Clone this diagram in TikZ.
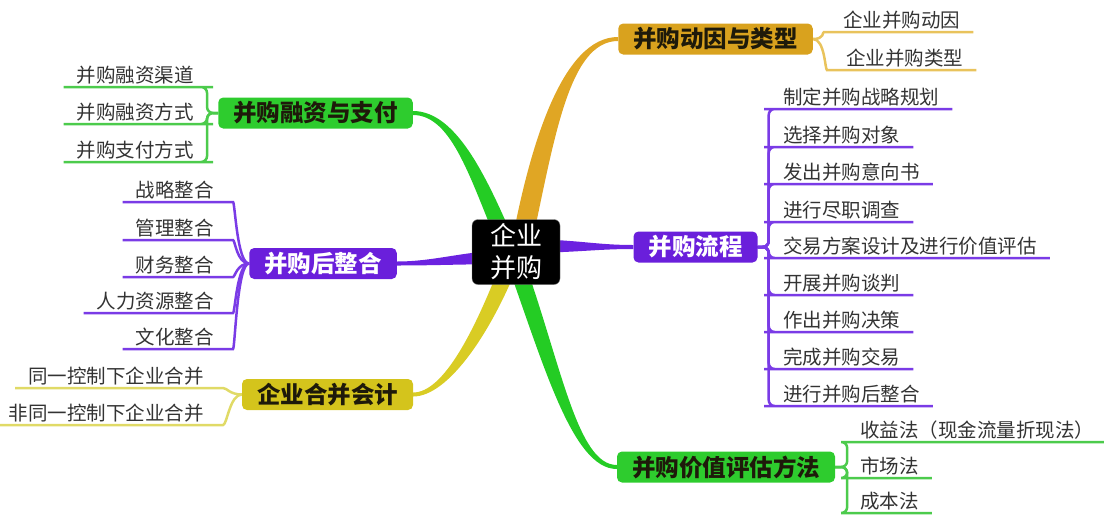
\documentclass[tikz,border=0pt]{standalone}
\usepackage{fontspec}
\setmainfont{Noto Sans CJK SC}
\usetikzlibrary{calc}
\definecolor{goldbox}{HTML}{D9A21E}
\definecolor{goldline}{HTML}{E0A624}
\definecolor{goldtwig}{HTML}{E9C35C}
\definecolor{purplebox}{HTML}{6A1FDB}
\definecolor{purpleline}{HTML}{6B22E0}
\definecolor{purpletwig}{HTML}{7A3BE6}
\definecolor{greenbox}{HTML}{2ECC2E}
\definecolor{greenline}{HTML}{24CC24}
\definecolor{greentwig}{HTML}{4CCB4C}
\definecolor{yellowbox}{HTML}{D4C41C}
\definecolor{yellowline}{HTML}{D9CC24}
\definecolor{yellowtwig}{HTML}{E0DA66}
\definecolor{darktext}{HTML}{1E1A0A}
\definecolor{leafgray}{HTML}{333333}
\pgfdeclarelayer{bg}
\pgfsetlayers{bg,main}
\tikzset{
  topic/.style={rounded corners=5pt,inner xsep=15pt,inner ysep=0pt,minimum height=31pt,
    font=\fontsize{23.5pt}{28pt}\selectfont\bfseries},
  leaf/.style={inner xsep=13pt,inner ysep=4.5pt,text depth=0pt,text=leafgray,
    font=\fontsize{19.5pt}{23pt}\selectfont},
  twig/.style={line width=2.5pt,rounded corners=6pt}
}
\begin{document}
\begin{tikzpicture}[x=1pt,y=-1pt]
\useasboundingbox (0,0) rectangle (1104,520);
\node[fill=black,draw=gray,rounded corners=6pt,text=white,align=center,inner sep=0pt,
  minimum width=88pt,minimum height=65pt,font=\fontsize{26pt}{32pt}\selectfont] (qy) at (516,252) {企业\\并购};
\node[topic,fill=goldbox,text=darktext] (dy) at (715.5,39) {并购动因与类型};
\node[topic,fill=purplebox,text=white] (lc) at (695.5,247) {并购流程};
\node[topic,fill=greenbox,text=darktext] (gz) at (726,467) {并购价值评估方法};
\node[topic,fill=greenbox,text=darktext] (rz) at (315.5,113) {并购融资与支付};
\node[topic,fill=purplebox,text=white] (zh) at (323,263.5) {并购后整合};
\node[topic,fill=yellowbox,text=darktext] (kj) at (327.5,394.5) {企业合并会计};
\node[leaf,anchor=south west] (dy1) at (830,32) {企业并购动因};
\node[leaf,anchor=south west] (dy2) at (833,70) {企业并购类型};
\node[leaf,anchor=south west] (lc1) at (770,109) {制定并购战略规划};
\node[leaf,anchor=south west] (lc2) at (770,147) {选择并购对象};
\node[leaf,anchor=south west] (lc3) at (770,184) {发出并购意向书};
\node[leaf,anchor=south west] (lc4) at (770,222) {进行尽职调查};
\node[leaf,anchor=south west] (lc5) at (770,258) {交易方案设计及进行价值评估};
\node[leaf,anchor=south west] (lc6) at (770,295) {开展并购谈判};
\node[leaf,anchor=south west] (lc7) at (770,332) {作出并购决策};
\node[leaf,anchor=south west] (lc8) at (770,369) {完成并购交易};
\node[leaf,anchor=south west] (lc9) at (770,406) {进行并购后整合};
\node[leaf,anchor=south west] (gz1) at (847,442) {收益法（现金流量折现法）};
\node[leaf,anchor=south west] (gz2) at (847,478) {市场法};
\node[leaf,anchor=south west] (gz3) at (847,513) {成本法};
\node[leaf,anchor=south east] (rz1) at (207,87) {并购融资渠道};
\node[leaf,anchor=south east] (rz2) at (207,124) {并购融资方式};
\node[leaf,anchor=south east] (rz3) at (207,162) {并购支付方式};
\node[leaf,anchor=south east] (zh1) at (227,202) {战略整合};
\node[leaf,anchor=south east] (zh2) at (227,240) {管理整合};
\node[leaf,anchor=south east] (zh3) at (227,277) {财务整合};
\node[leaf,anchor=south east] (zh4) at (227,313) {人力资源整合};
\node[leaf,anchor=south east] (zh5) at (227,349) {文化整合};
\node[leaf,anchor=south east] (kj1) at (217,388) {同一控制下企业合并};
\node[leaf,anchor=south east] (kj2) at (217,425) {非同一控制下企业合并};
\coordinate (lcj) at ([xshift=11]lc.east);
\coordinate (gzj) at ([xshift=12]gz.east);
\coordinate (rzj) at ([xshift=-11]rz.west);
\begin{pgfonlayer}{bg}
\fill[goldline] ([xshift=-6]qy.center) .. controls +(20,-110) and +(-55,0) .. ([yshift=2]dy.west)
  -- ([yshift=-2]dy.west) .. controls +(-50,0) and +(24,-110) .. ([xshift=14]qy.center) -- cycle;
\fill[greenline] ([xshift=-15]qy.center) .. controls +(-30,-70) and +(40,0) .. ([yshift=-2]rz.east)
  -- ([yshift=2]rz.east) .. controls +(45,0) and +(-30,-70) .. ([xshift=3]qy.center) -- cycle;
\fill[yellowline] ([xshift=-11]qy.center) .. controls +(-30,80) and +(30,0) .. ([yshift=2]kj.east)
  -- ([yshift=-2]kj.east) .. controls +(35,0) and +(-30,80) .. ([xshift=7]qy.center) -- cycle;
\fill[greenline] ([xshift=-13]qy.center) .. controls +(40,110) and +(-45,0) .. ([yshift=-2]gz.west)
  -- ([yshift=2]gz.west) .. controls +(-40,0) and +(40,110) .. ([xshift=5]qy.center) -- cycle;
\fill[purpleline] ([yshift=13]qy.center) .. controls +(60,0) and +(-40,0) .. ([yshift=2]lc.west)
  -- ([yshift=-2]lc.west) .. controls +(-40,0) and +(60,0) .. ([yshift=-1]qy.center) -- cycle;
\fill[purpleline] ([yshift=2]qy.center) .. controls +(-50,0) and +(40,0) .. ([yshift=2]zh.east)
  -- ([yshift=-2]zh.east) .. controls +(40,0) and +(-50,0) .. ([yshift=-12]qy.center) -- cycle;
\draw[twig,goldtwig] (dy.east) .. controls +(12,0) and +(-8,0) .. (dy1.south west) -- (dy1.south east);
\draw[twig,goldtwig] (dy.east) .. controls +(12,0) and +(-8,0) .. (dy2.south west) -- (dy2.south east);
\draw[twig,purpletwig] (lc.east) -- (lcj) |- (lc1.south west) -- (lc1.south east);
\draw[twig,purpletwig] (lc.east) -- (lcj) |- (lc2.south west) -- (lc2.south east);
\draw[twig,purpletwig] (lc.east) -- (lcj) |- (lc3.south west) -- (lc3.south east);
\draw[twig,purpletwig] (lc.east) -- (lcj) |- (lc4.south west) -- (lc4.south east);
\draw[twig,purpletwig] (lc.east) -- (lcj) |- (lc5.south west) -- (lc5.south east);
\draw[twig,purpletwig] (lc.east) -- (lcj) |- (lc6.south west) -- (lc6.south east);
\draw[twig,purpletwig] (lc.east) -- (lcj) |- (lc7.south west) -- (lc7.south east);
\draw[twig,purpletwig] (lc.east) -- (lcj) |- (lc8.south west) -- (lc8.south east);
\draw[twig,purpletwig] (lc.east) -- (lcj) |- (lc9.south west) -- (lc9.south east);
\draw[twig,greentwig] (gz.east) -- (gzj) |- (gz1.south west) -- (gz1.south east);
\draw[twig,greentwig] (gz.east) -- (gzj) |- (gz2.south west) -- (gz2.south east);
\draw[twig,greentwig] (gz.east) -- (gzj) |- (gz3.south west) -- (gz3.south east);
\draw[twig,greentwig] (rz.west) -- (rzj) |- (rz1.south east) -- (rz1.south west);
\draw[twig,greentwig] (rz.west) -- (rzj) |- (rz2.south east) -- (rz2.south west);
\draw[twig,greentwig] (rz.west) -- (rzj) |- (rz3.south east) -- (rz3.south west);
\draw[twig,purpletwig] (zh.west) .. controls +(-12,0) and +(8,0) .. (zh1.south east) -- (zh1.south west);
\draw[twig,purpletwig] (zh.west) .. controls +(-12,0) and +(8,0) .. (zh2.south east) -- (zh2.south west);
\draw[twig,purpletwig] (zh.west) .. controls +(-12,0) and +(8,0) .. (zh3.south east) -- (zh3.south west);
\draw[twig,purpletwig] (zh.west) .. controls +(-12,0) and +(8,0) .. (zh4.south east) -- (zh4.south west);
\draw[twig,purpletwig] (zh.west) .. controls +(-12,0) and +(8,0) .. (zh5.south east) -- (zh5.south west);
\draw[twig,yellowtwig] (kj.west) .. controls +(-12,0) and +(10,0) .. (kj1.south east) -- (kj1.south west);
\draw[twig,yellowtwig] (kj.west) .. controls +(-12,0) and +(10,0) .. (kj2.south east) -- (kj2.south west);
\end{pgfonlayer}
\end{tikzpicture}
\end{document}
